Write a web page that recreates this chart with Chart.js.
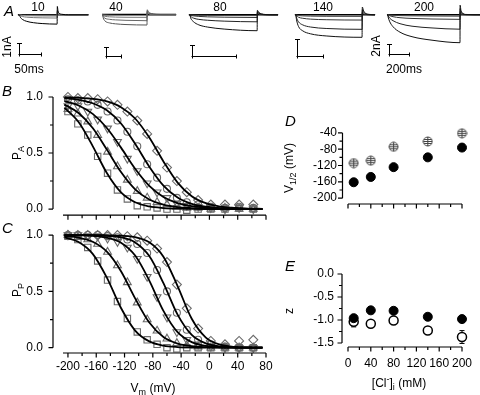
<!DOCTYPE html>
<html>
<head>
<meta charset="utf-8">
<script src="https://cdn.jsdelivr.net/npm/chart.js@4.4.1/dist/chart.umd.min.js"></script>
<style>
  body { margin: 0; background: #fff; }
  #fig { position: relative; width: 480px; height: 395px; overflow: hidden; background: #fff;
         font-family: "Liberation Sans", Arial, Helvetica, sans-serif; color: #000; }
  #fig canvas { position: absolute; }
  .t { position: absolute; font-size: 12px; line-height: 1; white-space: nowrap; transform: translate(-50%, -50%); }
  .rot { transform: translate(-50%, -50%) rotate(-90deg); }
  .p { position: absolute; font-size: 15px; font-style: italic; line-height: 1; }
  sub, sup { font-size: 9px; line-height: 0; }
</style>
</head>
<body>
<div id="fig">
  <canvas id="a10" width="78" height="60" style="left:14px;top:0"></canvas>
  <canvas id="a40" width="84" height="60" style="left:96px;top:0"></canvas>
  <canvas id="a80" width="100" height="60" style="left:183px;top:0"></canvas>
  <canvas id="a140" width="90" height="60" style="left:290px;top:0"></canvas>
  <canvas id="a200" width="98" height="60" style="left:382px;top:0"></canvas>
  <canvas id="pB" width="280" height="145" style="left:0;top:80px"></canvas>
  <canvas id="pC" width="280" height="173" style="left:0;top:222px"></canvas>
  <canvas id="pD" width="200" height="100" style="left:280px;top:110px"></canvas>
  <canvas id="pE" width="200" height="140" style="left:280px;top:255px"></canvas>

  <div class="p" style="left:4px;top:3px">A</div>
  <div class="p" style="left:2px;top:83px">B</div>
  <div class="p" style="left:2px;top:220px">C</div>
  <div class="p" style="left:285px;top:113px">D</div>
  <div class="p" style="left:285px;top:258px">E</div>

  <div class="t" style="left:38px;top:7px">10</div>
  <div class="t" style="left:116px;top:7px">40</div>
  <div class="t" style="left:220px;top:7px">80</div>
  <div class="t" style="left:323px;top:7px">140</div>
  <div class="t" style="left:424px;top:7px">200</div>
  <div class="t rot" style="left:7px;top:47px">1nA</div>
  <div class="t" style="left:29px;top:69px">50ms</div>
  <div class="t rot" style="left:376px;top:46px">2nA</div>
  <div class="t" style="left:404px;top:69px">200ms</div>

  <div class="t rot" style="left:17px;top:153px">P<sub>A</sub></div>
  <div class="t rot" style="left:17px;top:290px">P<sub>P</sub></div>
  <div class="t" style="left:153px;top:388px">V<sub>m</sub> (mV)</div>
  <div class="t rot" style="left:289px;top:168px">V<sub>1/2</sub> (mV)</div>
  <div class="t rot" style="left:289px;top:311px">z</div>
  <div class="t" style="left:399px;top:383px">[Cl<sup>-</sup>]<sub>i</sub> (mM)</div>
</div>

<script>
// ---- panel A: current traces (time in ms, current in nA) ----
const t10 = [0, 3, 5, 10, 20, 35, 55, 89, 89.5, 91, 94, 100, 115, 160];
const traces10 = [
  [0, 0, -0.2, -0.42, -0.6, -0.72, -0.8, -0.85, 0.75, 0.35, 0.12, 0.04, 0, 0],
  [0, 0, -0.08, -0.16, -0.22, -0.26, -0.28, -0.3, 0.4, 0.2, 0.08, 0.02, 0, 0],
  [0, 0, -0.03, -0.06, -0.09, -0.11, -0.12, -0.13, 0.25, 0.1, 0.04, 0.01, 0, 0],
  [0, 0, 0, -0.01, -0.02, -0.02, -0.02, -0.02, 0.3, 0.1, 0.03, 0.01, 0, 0]
];
const t40 = [0, 2, 4, 10, 25, 45, 80, 150, 150.5, 155, 165, 180, 200, 247];
const traces40 = [
  [0, 0, -0.35, -0.7, -0.92, -1.02, -1.1, -1.15, 0.55, 0.3, 0.12, 0.04, 0.01, 0],
  [0, 0, -0.2, -0.4, -0.52, -0.58, -0.63, -0.67, 0.4, 0.2, 0.08, 0.02, 0, 0],
  [0, 0, -0.1, -0.18, -0.24, -0.27, -0.29, -0.3, 0.3, 0.15, 0.05, 0.01, 0, 0],
  [0, 0, -0.03, -0.05, -0.07, -0.08, -0.09, -0.1, 0.2, 0.1, 0.03, 0, 0, 0]
];
const t80 = [0, 4, 8, 20, 45, 85, 160, 310, 311, 318, 330, 350, 380, 405];
const traces80 = [
  [0, 0, -0.3, -0.62, -0.92, -1.12, -1.3, -1.45, 0.4, 0.2, 0.08, 0.02, 0, 0],
  [0, 0, -0.15, -0.3, -0.42, -0.5, -0.58, -0.64, 0.3, 0.15, 0.05, 0.01, 0, 0],
  [0, 0, -0.05, -0.1, -0.15, -0.19, -0.22, -0.25, 0.2, 0.1, 0.03, 0, 0, 0],
  [0, 0, -0.02, -0.03, -0.05, -0.06, -0.07, -0.08, 0.15, 0.06, 0.02, 0, 0, 0]
];
const t140 = [0, 3, 6, 14, 30, 60, 120, 258, 259, 264, 272, 285, 300, 308];
const traces140 = [
  [0, 0, -0.6, -1.4, -1.9, -2.25, -2.5, -2.66, 0.9, 0.45, 0.15, 0.04, 0, 0],
  [0, 0, -0.35, -0.85, -1.2, -1.45, -1.62, -1.72, 0.6, 0.3, 0.1, 0.02, 0, 0],
  [0, 0, -0.12, -0.3, -0.42, -0.52, -0.59, -0.63, 0.35, 0.15, 0.05, 0, 0, 0],
  [0, 0, -0.04, -0.1, -0.14, -0.17, -0.19, -0.2, 0.2, 0.08, 0.02, 0, 0, 0]
];
const t200 = [0, 5, 10, 25, 60, 130, 250, 450, 730, 731, 740, 760, 790, 930];
const traces200 = [
  [0, 0, -0.4, -1.3, -2.4, -3.5, -4.4, -5.1, -5.6, 1.9, 0.8, 0.25, 0.05, 0],
  [0, 0, -0.2, -0.65, -1.2, -1.8, -2.3, -2.65, -2.9, 1.2, 0.5, 0.15, 0.03, 0],
  [0, 0, -0.06, -0.2, -0.4, -0.6, -0.75, -0.86, -0.93, 0.6, 0.25, 0.08, 0.01, 0],
  [0, 0, -0.02, -0.06, -0.12, -0.18, -0.23, -0.27, -0.3, 0.3, 0.12, 0.03, 0, 0]
];

// ---- panels B and C: open probability vs voltage ----
const markV = [-200, -186, -172, -158, -144, -130, -116, -102, -88, -74, -60, -46, -32, -16, 2, 22, 42, 62];
const pa10  = [0.87, 0.76, 0.66, 0.47, 0.32, 0.17, 0.09, 0.03, 0.02, 0.01, 0.0, 0.0, -0.01, 0.0, 0.0, 0.0, 0.01, 0.0];
const pa40  = [0.89, 0.85, 0.78, 0.66, 0.51, 0.38, 0.26, 0.16, 0.10, 0.06, 0.04, 0.02, 0.01, 0.01, 0.0, 0.01, 0.0, 0.0];
const pa80  = [0.92, 0.92, 0.87, 0.80, 0.72, 0.60, 0.45, 0.34, 0.23, 0.15, 0.10, 0.05, 0.03, 0.02, 0.01, 0.0, 0.01, 0.0];
const pa140 = [0.98, 0.97, 0.96, 0.93, 0.87, 0.79, 0.69, 0.56, 0.40, 0.28, 0.18, 0.10, 0.06, 0.04, 0.02, 0.01, 0.02, 0.01];
const pa200 = [1.0, 0.99, 0.99, 0.98, 0.96, 0.93, 0.87, 0.79, 0.67, 0.52, 0.37, 0.25, 0.15, 0.08, 0.04, 0.04, 0.04, 0.04];
const pp10  = [0.99, 0.96, 0.89, 0.77, 0.60, 0.41, 0.26, 0.14, 0.07, 0.03, 0.0, -0.01, 0.0, 0.0, 0.0, 0.0, 0.0, 0.0];
const pp40  = [1.0, 0.98, 0.96, 0.92, 0.85, 0.73, 0.58, 0.40, 0.25, 0.15, 0.08, 0.04, 0.02, 0.01, 0.0, 0.0, 0.0, 0.0];
const pp80  = [1.0, 1.0, 0.99, 0.99, 0.97, 0.94, 0.89, 0.79, 0.63, 0.45, 0.27, 0.14, 0.07, 0.03, 0.01, 0.0, 0.0, 0.0];
const pp140 = [1.0, 1.0, 1.0, 1.0, 0.99, 0.98, 0.96, 0.92, 0.84, 0.69, 0.50, 0.31, 0.16, 0.07, 0.03, 0.01, 0.0, 0.0];
const pp200 = [1.0, 1.0, 1.0, 1.0, 1.0, 1.0, 0.99, 0.98, 0.95, 0.88, 0.76, 0.56, 0.35, 0.17, 0.06, 0.03, 0.06, 0.07];

const fitV = [-205, -185, -165, -145, -125, -105, -85, -65, -45, -25, -5, 15, 35, 55, 75];
const paFit10  = [0.905, 0.777, 0.562, 0.321, 0.148, 0.060, 0.023, 0.009, 0.003, 0.001, 0, 0, 0, 0, 0];
const paFit40  = [0.932, 0.857, 0.723, 0.531, 0.330, 0.176, 0.085, 0.039, 0.017, 0.008, 0.003, 0.001, 0, 0, 0];
const paFit80  = [0.963, 0.924, 0.849, 0.723, 0.548, 0.360, 0.207, 0.108, 0.053, 0.025, 0.012, 0.006, 0.003, 0.001, 0];
const paFit140 = [0.989, 0.975, 0.944, 0.881, 0.763, 0.582, 0.378, 0.209, 0.103, 0.047, 0.021, 0.009, 0.004, 0.002, 0.001];
const paFit200 = [0.997, 0.993, 0.983, 0.960, 0.909, 0.808, 0.638, 0.425, 0.236, 0.115, 0.052, 0.022, 0.010, 0.004, 0.002];
const ppFit10  = [0.979, 0.938, 0.833, 0.622, 0.352, 0.152, 0.056, 0.019, 0.006, 0.002, 0.001, 0, 0, 0, 0];
const ppFit40  = [0.991, 0.977, 0.940, 0.852, 0.679, 0.438, 0.223, 0.095, 0.037, 0.014, 0.005, 0.002, 0.001, 0, 0];
const ppFit80  = [0.999, 0.997, 0.992, 0.976, 0.932, 0.818, 0.596, 0.327, 0.138, 0.050, 0.017, 0.006, 0.002, 0.001, 0];
const ppFit140 = [1.0, 0.999, 0.998, 0.993, 0.979, 0.934, 0.813, 0.573, 0.293, 0.113, 0.038, 0.012, 0.004, 0.001, 0];
const ppFit200 = [1.0, 1.0, 1.0, 0.998, 0.994, 0.981, 0.936, 0.808, 0.547, 0.257, 0.090, 0.028, 0.008, 0.002, 0.001];

// ---- panels D and E: fit parameters vs [Cl-]i ----
const chloride = [10, 40, 80, 140, 200];
const vHalfA = [-161, -148, -124, -100, -76];
const vHalfP = [-114, -108, -74, -61, -41];
const zA = [-0.96, -0.79, -0.80, -0.93, -0.98];
const zP = [-1.04, -1.08, -1.01, -1.23, -1.37];
const zPErr = [0.11, 0.04, 0.04, 0.06, 0.14];

// tick labels
const voltTicks = [-200, -160, -120, -80, -40, 0, 40, 80];
const probTicks = [0, 0.5, 1];
const vHalfTicks = [-200, -160, -120, -80, -40];
const zTicks = [-1.5, -1, -0.5, 0];
const clTicks = [0, 40, 80, 120, 160, 200];

Chart.defaults.font.family = '"Liberation Sans", Arial, Helvetica, sans-serif';
Chart.defaults.font.size = 12;
Chart.defaults.color = '#000';

const pts = (xs, ys) => xs.map((x, k) => ({ x: x, y: ys[k] }));

// scale bar drawn in data units through the chart's own scales
const scaleBar = {
  id: 'scaleBar',
  afterDraw(chart, args, o) {
    const { ctx, scales: { x, y } } = chart;
    const x0 = Math.round(x.getPixelForValue(o.t)) + 0.5;
    const x1 = Math.round(x.getPixelForValue(o.t + o.dt)) + 0.5;
    const y0 = Math.round(y.getPixelForValue(o.i)) + 0.5;
    const y1 = Math.round(y.getPixelForValue(o.i + o.di)) + 0.5;
    ctx.save();
    ctx.strokeStyle = '#000';
    ctx.lineWidth = 1;
    ctx.beginPath();
    ctx.moveTo(x0, y1); ctx.lineTo(x0, y0 + 2);
    ctx.moveTo(x0 - 2.5, y1); ctx.lineTo(x0 + 2.5, y1);
    ctx.moveTo(x0 - 1, y0); ctx.lineTo(x1, y0);
    ctx.moveTo(x1, y0 - 2); ctx.lineTo(x1, y0 + 2);
    ctx.stroke();
    ctx.restore();
  }
};

// detached axis lines with major/minor ticks
const axes = {
  id: 'axes',
  afterDraw(chart, args, o) {
    const { ctx, chartArea, scales: { x, y } } = chart;
    ctx.save();
    ctx.strokeStyle = '#000';
    ctx.lineWidth = 1.2;
    ctx.beginPath();
    const yb = chartArea.bottom;
    ctx.moveTo(x.getPixelForValue(o.x.from), yb);
    ctx.lineTo(x.getPixelForValue(o.x.to), yb);
    const nx = Math.round((o.x.last - o.x.first) / o.x.step);
    for (let k = 0; k <= nx; k++) {
      const px = x.getPixelForValue(o.x.first + k * o.x.step);
      ctx.moveTo(px, yb);
      ctx.lineTo(px, yb + (k % 2 === 0 ? 4.5 : 3));
    }
    const xl = chartArea.left - o.gap;
    ctx.moveTo(xl, y.getPixelForValue(o.y.first));
    ctx.lineTo(xl, y.getPixelForValue(o.y.last));
    const ny = Math.round((o.y.last - o.y.first) / o.y.step);
    for (let k = 0; k <= ny; k++) {
      const py = y.getPixelForValue(o.y.first + k * o.y.step);
      ctx.moveTo(xl, py);
      ctx.lineTo(xl - (k % 2 === 0 ? 4.5 : 3), py);
    }
    ctx.stroke();
    ctx.restore();
  }
};

// vertical error bars for one dataset
const errBars = {
  id: 'errBars',
  beforeDatasetsDraw(chart, args, o) {
    if (!o.err) return;
    const { ctx, scales: { x, y } } = chart;
    const ds = chart.data.datasets[o.dataset];
    ctx.save();
    ctx.strokeStyle = '#000';
    ctx.lineWidth = 1;
    ctx.beginPath();
    ds.data.forEach((p, k) => {
      const px = x.getPixelForValue(p.x);
      const top = y.getPixelForValue(p.y + o.err[k]);
      const bot = y.getPixelForValue(p.y - o.err[k]);
      ctx.moveTo(px, top); ctx.lineTo(px, bot);
      ctx.moveTo(px - 2.5, top); ctx.lineTo(px + 2.5, top);
      ctx.moveTo(px - 2.5, bot); ctx.lineTo(px + 2.5, bot);
    });
    ctx.stroke();
    ctx.restore();
  }
};

function traceChart(id, t, traces, colors, xr, yr, bar) {
  const sets = traces.map((vals, k) => ({
    data: pts(t, vals), showLine: true, borderColor: colors[k], borderWidth: 1,
    pointRadius: 0, cubicInterpolationMode: 'monotone'
  }));
  sets.push({
    data: [{ x: t[0], y: 0 }, { x: t[t.length - 1], y: 0 }],
    showLine: true, borderColor: '#000', borderWidth: 1.6, pointRadius: 0
  });
  new Chart(document.getElementById(id), {
    type: 'scatter',
    data: { datasets: sets },
    options: {
      responsive: false, animation: false, events: [], devicePixelRatio: 1,
      layout: { padding: 0 },
      scales: {
        x: { display: false, min: xr[0], max: xr[1] },
        y: { display: false, min: yr[0], max: yr[1] }
      },
      plugins: { legend: { display: false }, tooltip: { enabled: false }, scaleBar: bar }
    },
    plugins: [scaleBar]
  });
}

traceChart('a10', t10, traces10, ['#000', '#777', '#999', '#333'], [-9, 168.3], [-4.11, 1.34],
  { t: 2.4, i: -3.57, dt: 50, di: 1 });
traceChart('a40', t40, traces40, ['#555', '#666', '#777', '#888'], [-20, 260], [-5.04, 1.63],
  { t: 13.3, i: -4.59, dt: 50, di: 1 });
traceChart('a80', t80, traces80, ['#111', '#222', '#333', '#444'], [-27, 427.5], [-4.11, 1.34],
  { t: 13.9, i: -3.75, dt: 200, di: 1 });
traceChart('a140', t140, traces140, ['#111', '#222', '#333', '#444'], [-19, 327], [-5.33, 1.73],
  { t: 7.9, i: -4.86, dt: 100, di: 2 });
traceChart('a200', t200, traces200, ['#111', '#222', '#333', '#444'], [-50, 930], [-9.06, 2.94],
  { t: 20, i: -7.86, dt: 200, di: 2 });

function marks(ys, style, rot, r) {
  return {
    data: pts(markV, ys), pointStyle: style, rotation: rot, pointRadius: r,
    pointBorderColor: '#6a6a6a', pointBackgroundColor: 'rgba(0,0,0,0)', pointBorderWidth: 1.1, clip: false
  };
}
function fitLine(ys) {
  return {
    data: pts(fitV, ys), showLine: true, borderColor: '#000', borderWidth: 1.8,
    pointRadius: 0, cubicInterpolationMode: 'monotone'
  };
}
const flat = { maxRotation: 0, minRotation: 0, autoSkip: false };
function fixedX(size, extra) {
  return Object.assign({
    grid: { display: false, drawTicks: false }, border: { display: false },
    afterFit(s) { s.height = size; s.paddingLeft = 0; s.paddingRight = 0; }
  }, extra);
}
function fixedY(size, extra) {
  return Object.assign({
    grid: { display: false, drawTicks: false }, border: { display: false },
    afterFit(s) { s.width = size; s.paddingTop = 0; s.paddingBottom = 0; }
  }, extra);
}
const tickList = list => s => { s.ticks = list.map(v => ({ value: v })); };

function probChart(id, m, f, padTop, xHeight, yr, showX) {
  new Chart(document.getElementById(id), {
    type: 'scatter',
    data: {
      datasets: [
        fitLine(f[0]), fitLine(f[1]), fitLine(f[2]), fitLine(f[3]), fitLine(f[4]),
        marks(m[0], 'rect', 0, 4.5),
        marks(m[1], 'triangle', 0, 4.5),
        marks(m[2], 'triangle', 180, 4.5),
        marks(m[3], 'circle', 0, 3.5),
        marks(m[4], 'rectRot', 0, 4.5)
      ]
    },
    options: {
      responsive: false, animation: false, events: [], devicePixelRatio: 1,
      layout: { padding: { left: 0, right: 14, top: padTop, bottom: 0 } },
      scales: {
        x: fixedX(xHeight, {
          min: -207, max: 80, afterBuildTicks: tickList(voltTicks),
          ticks: Object.assign({ display: showX, padding: 6, callback: v => String(v) }, flat)
        }),
        y: fixedY(63, {
          min: yr[0], max: yr[1], afterBuildTicks: tickList(probTicks),
          ticks: { padding: 20, callback: v => v.toFixed(1) }
        })
      },
      plugins: {
        legend: { display: false }, tooltip: { enabled: false },
        axes: { gap: 10, x: { from: -207, to: 80, first: -200, last: 80, step: 20 },
                y: { first: 0, last: 1, step: 0.25 } }
      }
    },
    plugins: [axes]
  });
}

probChart('pB', [pa10, pa40, pa80, pa140, pa200], [paFit10, paFit40, paFit80, paFit140, paFit200],
  12.5, 9.8, [-0.055, 1.04], false);
probChart('pC', [pp10, pp40, pp80, pp140, pp200], [ppFit10, ppFit40, ppFit80, ppFit140, ppFit200],
  7.4, 42, [-0.047, 1.05], true);

// hatched marker for panel D
const hatched = (() => {
  const c = document.createElement('canvas');
  c.width = 11; c.height = 11;
  const g = c.getContext('2d');
  g.fillStyle = '#fff'; g.strokeStyle = '#444'; g.lineWidth = 1;
  g.beginPath(); g.arc(5.5, 5.5, 4.5, 0, Math.PI * 2); g.fill(); g.stroke();
  g.beginPath();
  g.moveTo(5.5, 1); g.lineTo(5.5, 10);
  g.moveTo(1, 5.5); g.lineTo(10, 5.5);
  g.moveTo(2, 3.5); g.lineTo(9, 3.5);
  g.moveTo(2, 7.5); g.lineTo(9, 7.5);
  g.stroke();
  return c;
})();

new Chart(document.getElementById('pD'), {
  type: 'scatter',
  data: {
    datasets: [
      { data: pts(chloride, vHalfP), pointStyle: hatched, pointRadius: 5, clip: false },
      { data: pts(chloride, vHalfA), pointStyle: 'circle', pointRadius: 4.5,
        pointBackgroundColor: '#000', pointBorderColor: '#000', clip: false }
    ]
  },
  options: {
    responsive: false, animation: false, events: [], devicePixelRatio: 1,
    layout: { padding: { left: 0, right: 18, top: 18.8, bottom: 0 } },
    scales: {
      x: fixedX(4, { min: 0, max: 200, ticks: { display: false } }),
      y: fixedY(68, {
        min: -214.3, max: -30, afterBuildTicks: tickList(vHalfTicks),
        ticks: { padding: 11, callback: v => String(v) }
      })
    },
    plugins: {
      legend: { display: false }, tooltip: { enabled: false },
      axes: { gap: 5.5, x: { from: 0, to: 200, first: 0, last: 200, step: 20 },
              y: { first: -200, last: -40, step: 20 } }
    }
  },
  plugins: [axes]
});

new Chart(document.getElementById('pE'), {
  type: 'scatter',
  data: {
    datasets: [
      { data: pts(chloride, zA), pointStyle: 'circle', pointRadius: 4.5,
        pointBackgroundColor: '#000', pointBorderColor: '#000', clip: false },
      { data: pts(chloride, zP), pointStyle: 'circle', pointRadius: 4.5, pointBorderWidth: 1.5,
        pointBackgroundColor: '#fff', pointBorderColor: '#000', clip: false }
    ]
  },
  options: {
    responsive: false, animation: false, events: [], devicePixelRatio: 1,
    layout: { padding: { left: 0, right: 18, top: 16.7, bottom: 0 } },
    scales: {
      x: fixedX(48, {
        min: 0, max: 200, afterBuildTicks: tickList(clTicks),
        ticks: Object.assign({ padding: 9, callback: v => String(v) }, flat)
      }),
      y: fixedY(68, {
        min: -1.587, max: 0.05, afterBuildTicks: tickList(zTicks),
        ticks: { padding: 14, callback: v => v.toFixed(1) }
      })
    },
    plugins: {
      legend: { display: false }, tooltip: { enabled: false },
      axes: { gap: 6, x: { from: 0, to: 200, first: 0, last: 200, step: 20 },
              y: { first: -1.5, last: 0, step: 0.25 } },
      errBars: { dataset: 1, err: zPErr }
    }
  },
  plugins: [axes, errBars]
});
</script>
</body>
</html>
